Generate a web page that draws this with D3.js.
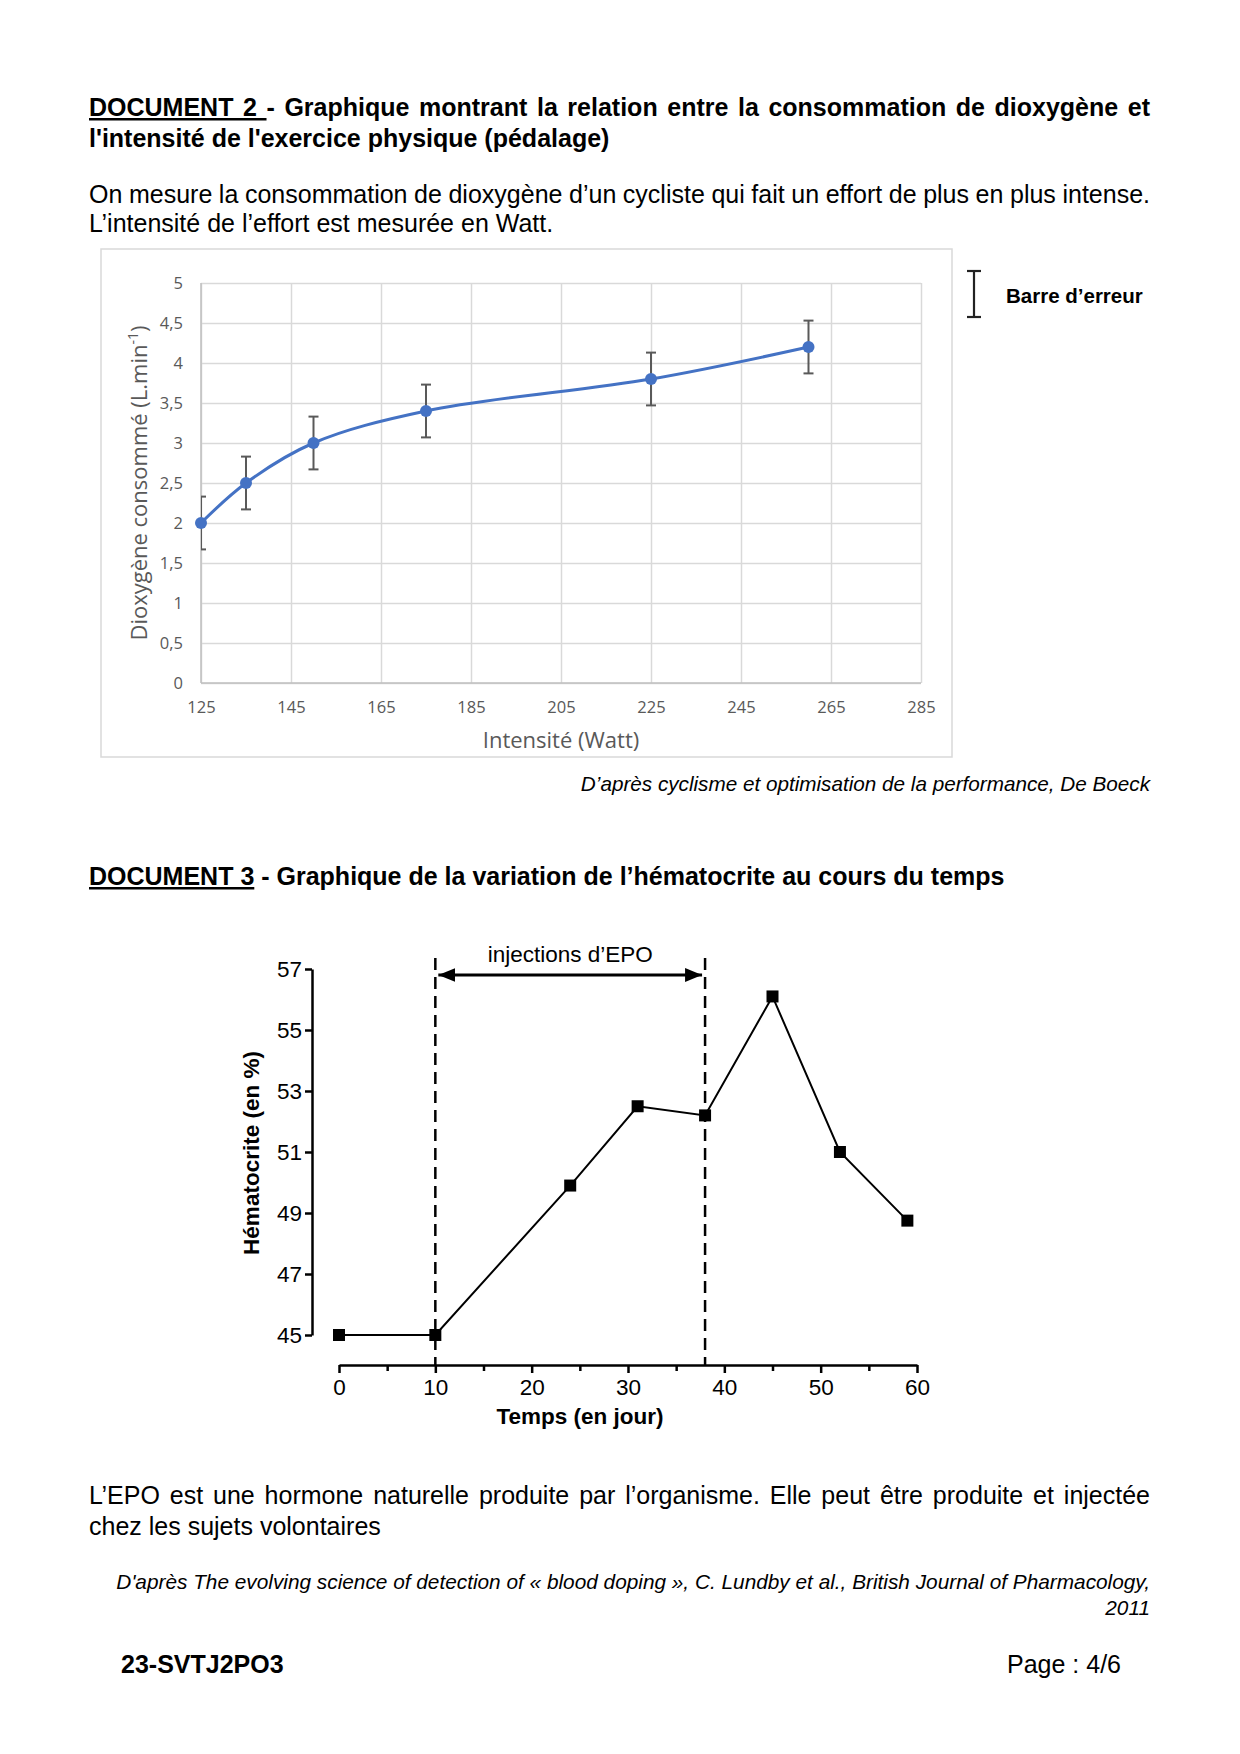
<!DOCTYPE html>
<html>
<head>
<meta charset="utf-8">
<script src="https://cdnjs.cloudflare.com/ajax/libs/d3/7.8.5/d3.min.js"></script>
<style>
  body { margin: 0; background: #fff; }
  svg { display: block; }
</style>
</head>
<body>
<script>
// --- document 2 : dioxygene vs intensite
var puissance = [125, 135, 150, 175, 225, 260];
var dioxygene = [2, 2.5, 3, 3.4, 3.8, 4.2];
var erreur = [0.33, 0.33, 0.33, 0.33, 0.33, 0.33];
var wattTicks = [125, 145, 165, 185, 205, 225, 245, 265, 285];
var o2Ticks = [0, 0.5, 1, 1.5, 2, 2.5, 3, 3.5, 4, 4.5, 5];

// --- document 3 : hematocrite vs temps
var jours = [0, 10, 24, 31, 38, 45, 52, 59];
var hematocrite = [45, 45, 49.9, 52.5, 52.2, 56.1, 51, 48.75];
var injections = [10, 38];
var jourTicks = [0, 10, 20, 30, 40, 50, 60];
var jourMinor = [5, 15, 25, 35, 45, 55];
var hemaTicks = [45, 47, 49, 51, 53, 55, 57];

var W = 1240, H = 1754;
var serif = "'Liberation Sans', Arial, sans-serif";
var calib = "'Open Sans', 'Noto Sans', sans-serif";

var svg = d3.select("body").append("svg")
            .attr("width", W)
            .attr("height", H)
            .style("font-family", serif);

function justify(sel, width){
  // spread (or tighten) the words so the line fills the given width
  var node = sel.node();
  var len = node.getComputedTextLength();
  var spaces = (node.textContent.match(/ /g) || []).length;
  if (spaces > 0){
    sel.attr("word-spacing", (width - len) / spaces);
  }
}

function line(x, y, txt, opts){
  opts = opts || {};
  var t = svg.append("text")
             .attr("x", x)
             .attr("y", y)
             .attr("font-size", opts.size || 25)
             .attr("font-weight", opts.bold ? "bold" : null)
             .attr("font-style", opts.italic ? "italic" : null)
             .attr("text-anchor", opts.anchor || "start")
             .attr("fill", "#000");
  if (opts.underline){
    t.append("tspan").style("text-decoration", "underline").text(opts.underline);
    t.append("tspan").text(txt);
  }
  else{
    t.text(txt);
  }
  if (opts.justify) justify(t, opts.justify);
  return t;
}

// texts of the page
line(89, 116, "- Graphique montrant la relation entre la consommation de dioxygène et",
     {bold: true, underline: "DOCUMENT 2 ", justify: 1061});
line(89, 147, "l'intensité de l'exercice physique (pédalage)", {bold: true});
line(89, 203, "On mesure la consommation de dioxygène d’un cycliste qui fait un effort de plus en plus intense.", {justify: 1061});
line(89, 232, "L’intensité de l’effort est mesurée en Watt.");

line(1150, 791, "D’après cyclisme et optimisation de la performance, De Boeck",
     {italic: true, size: 20.7, anchor: "end"});

line(89, 885, " - Graphique de la variation de l’hématocrite au cours du temps",
     {bold: true, underline: "DOCUMENT 3"});

line(89, 1504, "L’EPO est une hormone naturelle produite par l’organisme. Elle peut être produite et injectée",
     {justify: 1061});
line(89, 1535, "chez les sujets volontaires");

line(1150, 1589, "D'après The evolving science of detection of « blood doping », C. Lundby et al., British Journal of Pharmacology,",
     {italic: true, size: 20.8, anchor: "end"});
line(1150, 1615, "2011", {italic: true, size: 20.8, anchor: "end"});

line(121, 1673, "23-SVTJ2PO3", {bold: true});
line(1121, 1673, "Page : 4/6", {anchor: "end"});

// ================= chart 1 =================
var frame1 = {x: 101, y: 249, w: 851, h: 508};
svg.append("rect")
   .attr("x", frame1.x).attr("y", frame1.y)
   .attr("width", frame1.w).attr("height", frame1.h)
   .attr("fill", "#fff").attr("stroke", "#d9d9d9").attr("stroke-width", 1.5);

var x1 = d3.scaleLinear().domain([125, 285]).range([201, 921]);
var y1 = d3.scaleLinear().domain([0, 5]).range([683, 283]);

var g1 = svg.append("g");

// grid lines
g1.append("g")
  .attr("transform", "translate(0,683)")
  .call(d3.axisBottom(x1).tickValues(wattTicks).tickSize(-400).tickFormat(""))
  .call(function(g){ g.select(".domain").remove(); })
  .selectAll("line").attr("stroke", "#d9d9d9").attr("stroke-width", 1.5);

g1.append("g")
  .attr("transform", "translate(201,0)")
  .call(d3.axisLeft(y1).tickValues(o2Ticks).tickSize(-720).tickFormat(""))
  .call(function(g){ g.select(".domain").remove(); })
  .selectAll("line").attr("stroke", "#d9d9d9").attr("stroke-width", 1.5);

// axis lines
g1.append("line").attr("x1", 201).attr("x2", 201).attr("y1", 283).attr("y2", 683)
  .attr("stroke", "#bfbfbf").attr("stroke-width", 1.5);
g1.append("line").attr("x1", 201).attr("x2", 921).attr("y1", 683).attr("y2", 683)
  .attr("stroke", "#bfbfbf").attr("stroke-width", 1.5);

// tick labels
var fmtComma = function(d){ return String(d).replace(".", ","); };

var xl = g1.append("g")
  .attr("transform", "translate(0,683)")
  .call(d3.axisBottom(x1).tickValues(wattTicks).tickSize(0).tickPadding(18));
xl.select(".domain").remove();
xl.selectAll("text").attr("font-family", calib).attr("font-size", 16.5).attr("fill", "#595959");

var yl = g1.append("g")
  .attr("transform", "translate(201,0)")
  .call(d3.axisLeft(y1).tickValues(o2Ticks).tickSize(0).tickPadding(18).tickFormat(fmtComma));
yl.select(".domain").remove();
yl.selectAll("text").attr("font-family", calib).attr("font-size", 16.5).attr("fill", "#595959");

// axis titles
g1.append("text")
  .attr("x", 561).attr("y", 748)
  .attr("text-anchor", "middle")
  .attr("font-family", calib).attr("font-size", 22).attr("fill", "#595959")
  .text("Intensité (Watt)");

var yt = g1.append("text")
  .attr("transform", "translate(147,483) rotate(-90)")
  .attr("text-anchor", "middle")
  .attr("font-family", calib).attr("font-size", 22).attr("fill", "#595959");
yt.append("tspan").text("Dioxygène consommé (L.min");
yt.append("tspan").attr("font-size", 14).attr("dy", -9).text("-1");
yt.append("tspan").attr("dy", 9).text(")");

// error bars, clipped to the plot area
svg.append("clipPath").attr("id", "plot1")
   .append("rect").attr("x", 201).attr("y", 200).attr("width", 720).attr("height", 520);

var pts1 = puissance.map(function(d, i){ return {x: d, y: dioxygene[i], e: erreur[i]}; });

var eb = g1.append("g").attr("clip-path", "url(#plot1)")
  .selectAll("g").data(pts1).enter().append("g")
  .attr("stroke", "#595959").attr("stroke-width", 2);
eb.append("line")
  .attr("x1", function(d){ return x1(d.x); })
  .attr("x2", function(d){ return x1(d.x); })
  .attr("y1", function(d){ return y1(d.y + d.e); })
  .attr("y2", function(d){ return y1(d.y - d.e); });
eb.append("line")
  .attr("x1", function(d){ return x1(d.x) - 5; })
  .attr("x2", function(d){ return x1(d.x) + 5; })
  .attr("y1", function(d){ return y1(d.y + d.e); })
  .attr("y2", function(d){ return y1(d.y + d.e); });
eb.append("line")
  .attr("x1", function(d){ return x1(d.x) - 5; })
  .attr("x2", function(d){ return x1(d.x) + 5; })
  .attr("y1", function(d){ return y1(d.y - d.e); })
  .attr("y2", function(d){ return y1(d.y - d.e); });

// smoothed line
var smooth = d3.line()
               .x(function(d){ return x1(d.x); })
               .y(function(d){ return y1(d.y); })
               .curve(d3.curveCatmullRom.alpha(0.5));

g1.append("path")
  .attr("d", smooth(pts1))
  .attr("fill", "none")
  .attr("stroke", "#4472c4")
  .attr("stroke-width", 3);

g1.selectAll(".pt").data(pts1).enter().append("circle")
  .attr("class", "pt")
  .attr("cx", function(d){ return x1(d.x); })
  .attr("cy", function(d){ return y1(d.y); })
  .attr("r", 6)
  .attr("fill", "#4472c4");

// legend : barre d'erreur
var leg = svg.append("g").attr("stroke", "#222").attr("stroke-width", 2.2);
leg.append("line").attr("x1", 974).attr("x2", 974).attr("y1", 271).attr("y2", 317);
leg.append("line").attr("x1", 967).attr("x2", 981).attr("y1", 271).attr("y2", 271);
leg.append("line").attr("x1", 967).attr("x2", 981).attr("y1", 317).attr("y2", 317);
line(1006, 303, "Barre d’erreur", {bold: true, size: 20.5});

// ================= chart 2 =================
var x2 = d3.scaleLinear().domain([0, 60]).range([339, 917]);
var y2 = d3.scaleLinear().domain([45, 57]).range([1335, 969]);
var g2 = svg.append("g");

var ya = g2.append("g")
  .attr("transform", "translate(312,0)")
  .call(d3.axisLeft(y2).tickValues(hemaTicks).tickSize(7).tickSizeOuter(0).tickPadding(3));
ya.selectAll("path,line").attr("stroke", "#000").attr("stroke-width", 2.5);
ya.selectAll("text").attr("font-family", serif).attr("font-size", 22.5).attr("fill", "#000");

var xa = g2.append("g")
  .attr("transform", "translate(0,1365)")
  .call(d3.axisBottom(x2).tickValues(jourTicks).tickSize(8).tickSizeOuter(0).tickPadding(6));
xa.selectAll("path,line").attr("stroke", "#000").attr("stroke-width", 2.5);
xa.selectAll("text").attr("font-family", serif).attr("font-size", 22.5).attr("fill", "#000");

var xm = g2.append("g")
  .attr("transform", "translate(0,1365)")
  .call(d3.axisBottom(x2).tickValues(jourMinor).tickSize(6).tickFormat(""));
xm.select(".domain").remove();
xm.selectAll("line").attr("stroke", "#000").attr("stroke-width", 2.5);

// axis titles
g2.append("text")
  .attr("x", 580).attr("y", 1424)
  .attr("text-anchor", "middle")
  .attr("font-size", 22.5).attr("font-weight", "bold")
  .text("Temps (en jour)");

g2.append("text")
  .attr("transform", "translate(259,1153) rotate(-90)")
  .attr("text-anchor", "middle")
  .attr("font-size", 22.5).attr("font-weight", "bold")
  .text("Hématocrite (en %)");

// dashed lines of the injection period
g2.selectAll(".inj").data(injections).enter().append("line")
  .attr("class", "inj")
  .attr("x1", function(d){ return x2(d); })
  .attr("x2", function(d){ return x2(d); })
  .attr("y1", 958).attr("y2", 1365)
  .attr("stroke", "#000").attr("stroke-width", 2.5)
  .attr("stroke-dasharray", "12,7");

// double arrow
var defs = svg.append("defs");
defs.append("marker").attr("id", "arr")
    .attr("viewBox", "0 0 10 10").attr("refX", 10).attr("refY", 5)
    .attr("markerWidth", 17).attr("markerHeight", 14)
    .attr("preserveAspectRatio", "none")
    .attr("markerUnits", "userSpaceOnUse")
    .attr("orient", "auto-start-reverse")
    .append("path").attr("d", "M0,0 L10,5 L0,10 z").attr("fill", "#000");

g2.append("line")
  .attr("x1", x2(injections[0]) + 3).attr("x2", x2(injections[1]) - 3)
  .attr("y1", 975).attr("y2", 975)
  .attr("stroke", "#000").attr("stroke-width", 3)
  .attr("marker-start", "url(#arr)").attr("marker-end", "url(#arr)");

g2.append("text")
  .attr("x", (x2(injections[0]) + x2(injections[1])) / 2).attr("y", 962)
  .attr("text-anchor", "middle")
  .attr("font-size", 22.5)
  .text("injections d’EPO");

// data line and square markers
var pts2 = jours.map(function(d, i){ return {x: d, y: hematocrite[i]}; });
var straight = d3.line()
                 .x(function(d){ return x2(d.x); })
                 .y(function(d){ return y2(d.y); });

g2.append("path")
  .attr("d", straight(pts2))
  .attr("fill", "none")
  .attr("stroke", "#000")
  .attr("stroke-width", 2);

g2.selectAll(".sq").data(pts2).enter().append("rect")
  .attr("class", "sq")
  .attr("x", function(d){ return x2(d.x) - 6; })
  .attr("y", function(d){ return y2(d.y) - 6; })
  .attr("width", 12).attr("height", 12)
  .attr("fill", "#000");
</script>
</body>
</html>
